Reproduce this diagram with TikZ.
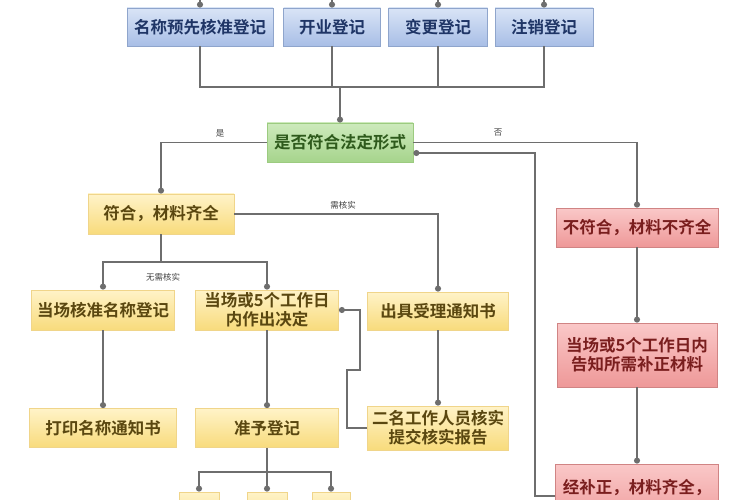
\documentclass[tikz,border=0pt]{standalone}
\usepackage{fontspec}
\setmainfont{Noto Sans CJK SC}[BoldFont=* Bold]
\usetikzlibrary{arrows.meta}
\definecolor{lgray}{HTML}{6E6E6E}
\definecolor{blueT}{HTML}{D9E4F6}\definecolor{blueB}{HTML}{A8BEE6}\definecolor{blueD}{HTML}{8FA5CC}\definecolor{blueX}{HTML}{1F3566}
\definecolor{grnT}{HTML}{CDEABC}\definecolor{grnB}{HTML}{A6D48C}\definecolor{grnD}{HTML}{9CCB80}\definecolor{grnX}{HTML}{2E5A1C}
\definecolor{yelT}{HTML}{FFF3C8}\definecolor{yelB}{HTML}{F8DB7C}\definecolor{yelD}{HTML}{F0D58A}\definecolor{yelX}{HTML}{5A4710}
\definecolor{redT}{HTML}{FAC8C8}\definecolor{redB}{HTML}{EE9898}\definecolor{redD}{HTML}{D08484}\definecolor{redX}{HTML}{7A1E1E}
\tikzset{
  box/.style={draw, line width=0.8pt, inner sep=0pt, align=center, font=\fontsize{16.5}{19}\selectfont\bfseries},
  bluebox/.style={box, top color=blueT, bottom color=blueB, draw=blueD, text=blueX, minimum height=38pt},
  grnbox/.style={box, top color=grnT, bottom color=grnB, draw=grnD, text=grnX, minimum width=146pt, minimum height=39pt},
  yelbox/.style={box, top color=yelT, bottom color=yelB, draw=yelD, text=yelX, minimum width=144pt, minimum height=40pt},
  redbox/.style={box, top color=redT, bottom color=redB, draw=redD, text=redX, minimum width=162pt},
  link/.style={draw=lgray, line width=1.5pt},
  arr/.style={link, -{Circle[length=6pt]}},
  lbl/.style={font=\fontsize{8.5}{10}\selectfont, text=black!75, inner sep=1pt}
}
\begin{document}
\begin{tikzpicture}[x=1pt,y=-1pt]
\useasboundingbox (0,0) rectangle (750,500);
% top row
\node[bluebox, minimum width=146pt] (b1) at (200,27) {名称预先核准登记};
\node[bluebox, minimum width=97pt] (b2) at (332,27) {开业登记};
\node[bluebox, minimum width=99pt] (b3) at (438,27) {变更登记};
\node[bluebox, minimum width=98pt] (b4) at (544,27) {注销登记};
\coordinate (t1) at (200,-10);
\coordinate (t2) at (332,-10);
\coordinate (t3) at (438,-10);
\coordinate (t4) at (544,-10);
\draw[arr] (t1) -- (b1.north);
\draw[arr] (t2) -- (b2.north);
\draw[arr] (t3) -- (b3.north);
\draw[arr] (t4) -- (b4.north);
% decision
\node[grnbox] (g) at (340,142.5) {是否符合法定形式};
\coordinate (jm) at (340,87);
\draw[link] (b1.south) |- (jm);
\draw[link] (b4.south) |- (jm);
\draw[link] (b2.south) -- (b2.south |- jm);
\draw[link] (b3.south) -- (b3.south |- jm);
\draw[arr] (jm) -- (g.north);
% left branch
\node[yelbox, minimum width=146pt] (y1) at (161,214) {符合，材料齐全};
\draw[arr] (g.west) -| (y1.north);
\node[lbl] (lshi) at (220,133) {是};
% right branch
\node[redbox, minimum height=39pt] (r1) at (637,227.5) {不符合，材料不齐全};
\draw[arr] (g.east) -| (r1.north);
\node[lbl] (lfou) at (498,133) {否};
\node[redbox, minimum width=160pt, minimum height=64pt] (r2) at (637,355) {当场或5个工作日内\\告知所需补正材料};
\node[redbox, minimum width=163pt, minimum height=64pt] (r3) at (637,496) {经补正，材料齐全，\\ \mbox{}};
\draw[arr] (r1.south) -- (r2.north);
\draw[arr] (r2.south) -- (r3.north);
\coordinate (rb) at (535,153);
\draw[arr] (r3.west) -| (rb) -- (g.east |- rb);
% need verification
\node[yelbox, minimum width=141pt, minimum height=38pt] (n1) at (438,311) {出具受理通知书};
\draw[arr] (y1.east) -| (n1.north);
\node[lbl] (lxu) at (343,205) {需核实};
\node[yelbox, minimum width=141pt, minimum height=44pt] (n2) at (438,428) {二名工作人员核实\\提交核实报告};
\draw[arr] (n1.south) -- (n2.north);
% no verification
\coordinate (ys) at (161,262);
\draw[link] (y1.south) -- (ys);
\node[lbl] (lwu) at (163,277) {无需核实};
\node[yelbox, minimum width=143pt] (a1) at (103,310) {当场核准名称登记};
\node[yelbox, minimum width=143pt] (a2) at (267,310) {当场或5个工作日\\内作出决定};
\draw[arr] (ys) -| (a1.north);
\draw[arr] (ys) -| (a2.north);
\coordinate (f2) at (347,370);
\coordinate (f3) at (360,370);
\draw[arr] (n2.west) -| (f2) -- (f3) |- (a2.east);
\node[yelbox, minimum width=147pt, minimum height=39pt] (p1) at (103,428) {打印名称通知书};
\node[yelbox, minimum width=143pt, minimum height=39pt] (z) at (267,428) {准予登记};
\draw[arr] (a1.south) -- (p1.north);
\draw[arr] (a2.south) -- (z.north);
\coordinate (zs) at (267,472);
\draw[link] (z.south) -- (zs);
\node[yelbox, minimum width=40pt, minimum height=40pt] (c1) at (199,512) {};
\node[yelbox, minimum width=40pt, minimum height=40pt] (c2) at (267,512) {};
\node[yelbox, minimum width=38pt, minimum height=40pt] (c3) at (331,512) {};
\draw[arr] (zs) -| (c1.north);
\draw[arr] (zs) -- (c2.north);
\draw[arr] (zs) -| (c3.north);
\end{tikzpicture}
\end{document}
